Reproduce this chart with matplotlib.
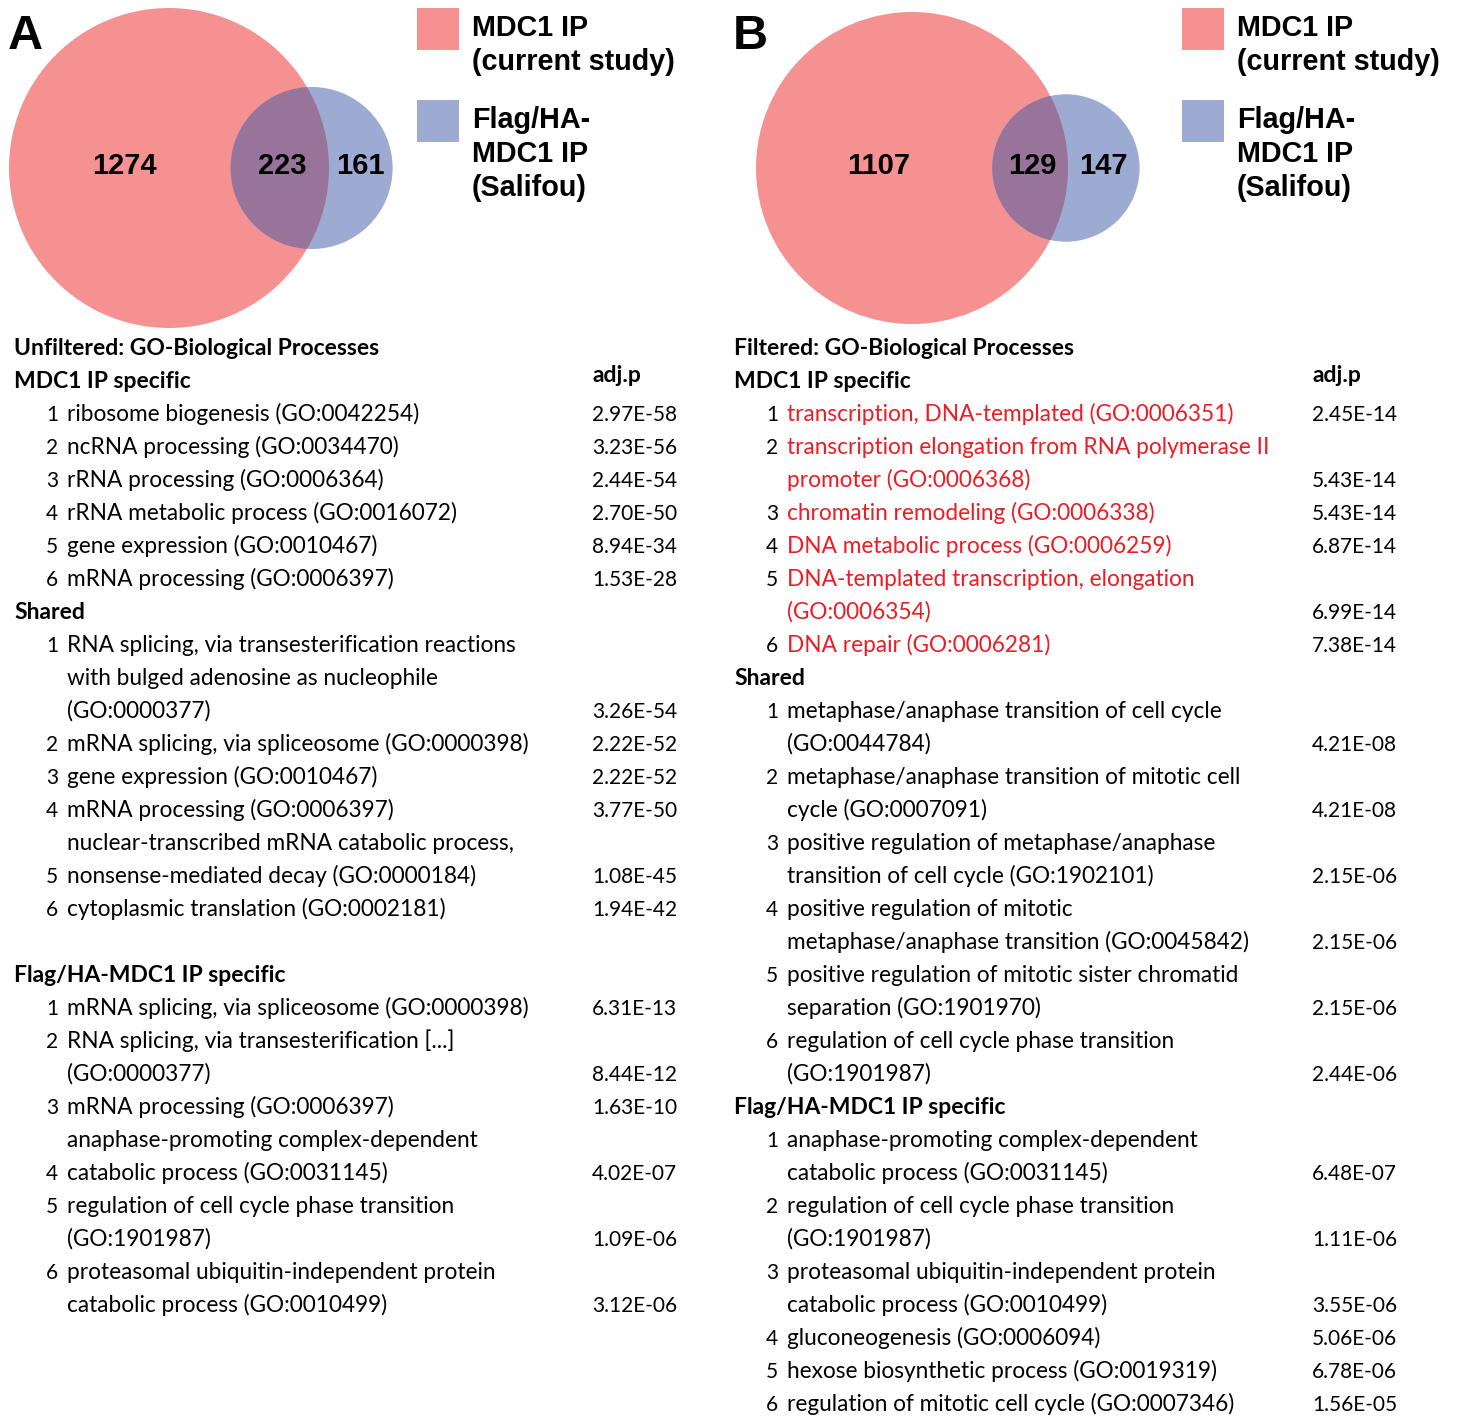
import numpy as np
import matplotlib.pyplot as plt
from matplotlib.patches import Circle, Rectangle

# Venn counts: [MDC1 IP only, shared, Flag/HA-MDC1 IP only]
venn_a = [1274, 223, 161]
venn_b = [1107, 129, 147]

legend_labels = [["MDC1 IP", "(current study)"], ["Flag/HA-", "MDC1 IP", "(Salifou)"]]

# ---- panel A: unfiltered GO terms ----
a_title = "Unfiltered: GO-Biological Processes"
a_spec_terms = ["ribosome biogenesis (GO:0042254)",
                "ncRNA processing (GO:0034470)",
                "rRNA processing (GO:0006364)",
                "rRNA metabolic process (GO:0016072)",
                "gene expression (GO:0010467)",
                "mRNA processing (GO:0006397)"]
a_spec_p = ["2.97E-58", "3.23E-56", "2.44E-54", "2.70E-50", "8.94E-34", "1.53E-28"]

a_shared_terms = ["RNA splicing, via transesterification reactions\nwith bulged adenosine as nucleophile\n(GO:0000377)",
                  "mRNA splicing, via spliceosome (GO:0000398)",
                  "gene expression (GO:0010467)",
                  "mRNA processing (GO:0006397)",
                  "nuclear-transcribed mRNA catabolic process,\nnonsense-mediated decay (GO:0000184)",
                  "cytoplasmic translation (GO:0002181)"]
a_shared_p = ["3.26E-54", "2.22E-52", "2.22E-52", "3.77E-50", "1.08E-45", "1.94E-42"]
a_shared_rank_line = [0, 0, 0, 0, 1, 0]

a_flag_terms = ["mRNA splicing, via spliceosome (GO:0000398)",
                "RNA splicing, via transesterification [...]\n(GO:0000377)",
                "mRNA processing (GO:0006397)",
                "anaphase-promoting complex-dependent\ncatabolic process (GO:0031145)",
                "regulation of cell cycle phase transition\n(GO:1901987)",
                "proteasomal ubiquitin-independent protein\ncatabolic process (GO:0010499)"]
a_flag_p = ["6.31E-13", "8.44E-12", "1.63E-10", "4.02E-07", "1.09E-06", "3.12E-06"]
a_flag_rank_line = [0, 0, 0, 1, 0, 0]

# ---- panel B: filtered GO terms ----
b_title = "Filtered: GO-Biological Processes"
b_spec_terms = ["transcription, DNA-templated (GO:0006351)",
                "transcription elongation from RNA polymerase II\npromoter (GO:0006368)",
                "chromatin remodeling (GO:0006338)",
                "DNA metabolic process (GO:0006259)",
                "DNA-templated transcription, elongation\n(GO:0006354)",
                "DNA repair (GO:0006281)"]
b_spec_p = ["2.45E-14", "5.43E-14", "5.43E-14", "6.87E-14", "6.99E-14", "7.38E-14"]

b_shared_terms = ["metaphase/anaphase transition of cell cycle\n(GO:0044784)",
                  "metaphase/anaphase transition of mitotic cell\ncycle (GO:0007091)",
                  "positive regulation of metaphase/anaphase\ntransition of cell cycle (GO:1902101)",
                  "positive regulation of mitotic\nmetaphase/anaphase transition (GO:0045842)",
                  "positive regulation of mitotic sister chromatid\nseparation (GO:1901970)",
                  "regulation of cell cycle phase transition\n(GO:1901987)"]
b_shared_p = ["4.21E-08", "4.21E-08", "2.15E-06", "2.15E-06", "2.15E-06", "2.44E-06"]

b_flag_terms = ["anaphase-promoting complex-dependent\ncatabolic process (GO:0031145)",
                "regulation of cell cycle phase transition\n(GO:1901987)",
                "proteasomal ubiquitin-independent protein\ncatabolic process (GO:0010499)",
                "gluconeogenesis (GO:0006094)",
                "hexose biosynthetic process (GO:0019319)",
                "regulation of mitotic cell cycle (GO:0007346)"]
b_flag_p = ["6.48E-07", "1.11E-06", "3.55E-06", "5.06E-06", "6.78E-06", "1.56E-05"]

PINK = "#f69191"
BLUE = "#9dabd3"
MIX = "#98749a"
RED = "#ed1c24"
TXT = "Lato"
ARIAL = "Liberation Sans"
FS_TERM = 16.3
FS_HEAD = 16.5
FS_NUM = 15

W, H = 1458, 1416
fig = plt.figure(figsize=(W / 100, H / 100), dpi=100)
ax = fig.add_axes([0, 0, 1, 1])
ax.set_xlim(0, W)
ax.set_ylim(H, 0)
ax.axis("off")


def lens_area(r1, r2, d):
    d1 = (d**2 + r1**2 - r2**2) / (2 * d)
    d2 = d - d1
    return (r1**2 * np.arccos(d1 / r1) - d1 * np.sqrt(r1**2 - d1**2)
            + r2**2 * np.arccos(d2 / r2) - d2 * np.sqrt(r2**2 - d2**2))


def centre_gap(r1, r2, area):
    # bisection for the centre distance giving the wanted overlap area
    lo, hi = abs(r1 - r2) + 1e-6, r1 + r2 - 1e-6
    for _ in range(80):
        mid = (lo + hi) / 2
        if lens_area(r1, r2, mid) > area:
            lo = mid
        else:
            hi = mid
    return (lo + hi) / 2


def draw_venn(counts, cx, cy, r_big):
    n1 = counts[0] + counts[1]
    n2 = counts[1] + counts[2]
    r_small = r_big * np.sqrt(n2 / n1)
    d = centre_gap(r_big, r_small, np.pi * r_small**2 * counts[1] / n2)
    big = Circle((cx, cy), r_big, fc=PINK, ec="none")
    ax.add_patch(big)
    ax.add_patch(Circle((cx + d, cy), r_small, fc=BLUE, ec="none"))
    lens = Circle((cx + d, cy), r_small, fc=MIX, ec="none")
    ax.add_patch(lens)
    lens.set_clip_path(big)
    left_small = cx + d - r_small
    xs = [(cx - r_big + left_small) / 2 + 5,
          (left_small + cx + r_big) / 2 + 2,
          (cx + r_big + cx + d + r_small) / 2]
    for x, n in zip(xs, counts):
        ax.text(x, cy - 2, str(n), ha="center", va="center", fontsize=21,
                fontweight="bold", family=ARIAL)


def draw_legend(x0):
    tops = [8, 100]
    baselines = [[36, 70], [128, 162, 196]]
    for top, lines, bls, col in zip(tops, legend_labels, baselines, [PINK, BLUE]):
        ax.add_patch(Rectangle((x0, top), 42, 42, fc=col, ec="none"))
        for s, b in zip(lines, bls):
            ax.text(x0 + 55, b, s, ha="left", va="baseline", fontsize=20.7,
                    fontweight="bold", family=ARIAL)


ROW0, STEP = 347, 33


def row_y(i):
    return ROW0 + STEP * i + 8


def draw_section(x0, row, header, terms, pvals, rank_line=None, color="black"):
    ax.text(x0, row_y(row), header, ha="left", va="baseline", fontsize=FS_HEAD,
            fontweight="bold", family=TXT)
    row += 1
    for k, (term, p) in enumerate(zip(terms, pvals)):
        lines = term.split("\n")
        rl = rank_line[k] if rank_line else 0
        ax.text(x0 + 44, row_y(row + rl), str(k + 1), ha="right", va="baseline",
                fontsize=FS_NUM, family=TXT)
        for j, s in enumerate(lines):
            ax.text(x0 + 53, row_y(row + j), s, ha="left", va="baseline",
                    fontsize=FS_TERM, family=TXT, color=color)
        ax.text(x0 + 578, row_y(row + len(lines) - 1), p, ha="left",
                va="baseline", fontsize=FS_NUM, family=TXT)
        row += len(lines)
    return row


def draw_table(x0, title, sections, gap_before_last=0):
    ax.text(x0, row_y(0), title, ha="left", va="baseline", fontsize=FS_HEAD,
            fontweight="bold", family=TXT)
    ax.text(x0 + 579, row_y(1) - 6, "adj.p", ha="left", va="baseline",
            fontsize=FS_HEAD, fontweight="bold", family=TXT)
    row = 1
    for n, sec in enumerate(sections):
        if n == len(sections) - 1:
            row += gap_before_last
        row = draw_section(x0, row, *sec)


# panel letters
ax.text(8, 49, "A", ha="left", va="baseline", fontsize=35, fontweight="bold", family=ARIAL)
ax.text(733, 49, "B", ha="left", va="baseline", fontsize=35, fontweight="bold", family=ARIAL)

draw_venn(venn_a, 169, 168, 160)
draw_venn(venn_b, 912, 168, 156)
draw_legend(417)
draw_legend(1182)

draw_table(14, a_title, [
    ("MDC1 IP specific", a_spec_terms, a_spec_p),
    ("Shared", a_shared_terms, a_shared_p, a_shared_rank_line),
    ("Flag/HA-MDC1 IP specific", a_flag_terms, a_flag_p, a_flag_rank_line),
], gap_before_last=1)

draw_table(734, b_title, [
    ("MDC1 IP specific", b_spec_terms, b_spec_p, None, RED),
    ("Shared", b_shared_terms, b_shared_p),
    ("Flag/HA-MDC1 IP specific", b_flag_terms, b_flag_p),
])

fig.savefig("out.png", dpi=100, facecolor="white")
